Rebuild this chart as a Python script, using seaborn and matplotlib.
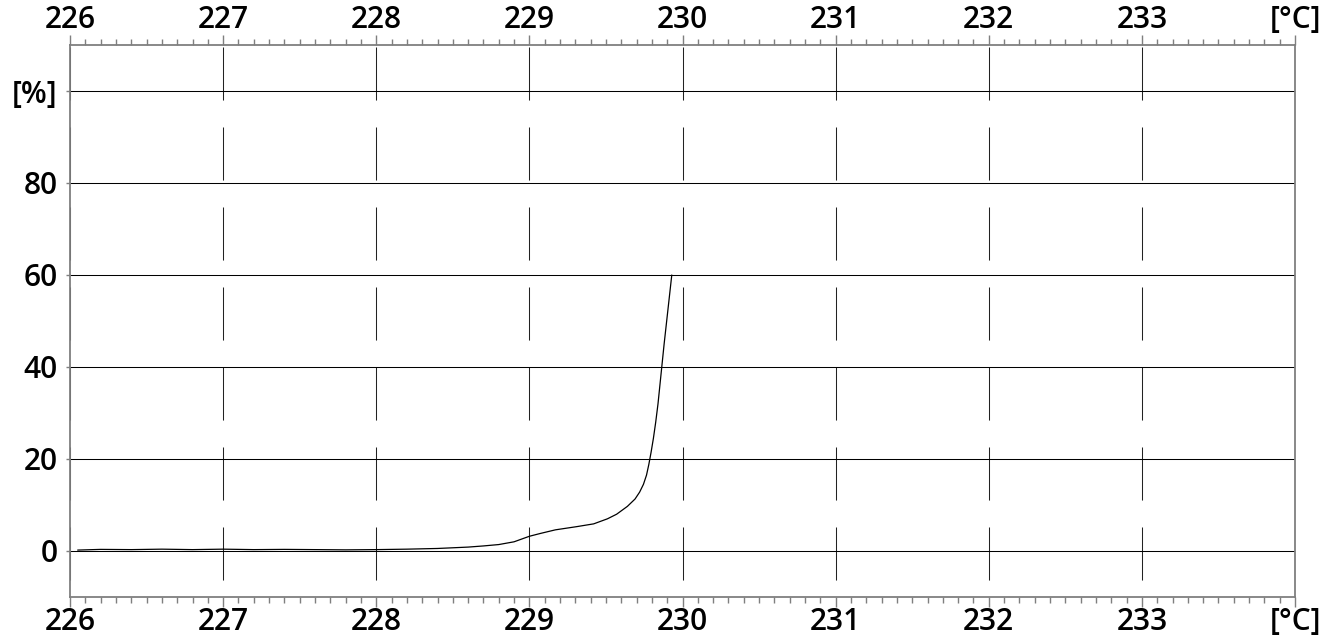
import numpy as np
import pandas as pd
import seaborn as sns
import matplotlib
matplotlib.use("Agg")
import matplotlib.pyplot as plt
import matplotlib.ticker as mtick

# curve (temperature [°C] vs. percent)
temp = [226.05, 226.2, 226.4, 226.6, 226.8, 227.0, 227.2, 227.4, 227.6, 227.8,
        228.0, 228.2, 228.4, 228.5, 228.6, 228.7, 228.8, 228.9, 229.0, 229.07,
        229.17, 229.31, 229.42, 229.51, 229.57, 229.64, 229.69, 229.72, 229.745,
        229.765, 229.78, 229.795, 229.81, 229.825, 229.84, 229.86, 229.88,
        229.90, 229.93]
pct = [0.2, 0.35, 0.3, 0.4, 0.3, 0.4, 0.3, 0.35, 0.3, 0.25,
       0.3, 0.4, 0.55, 0.7, 0.85, 1.1, 1.4, 2.0, 3.2, 3.8,
       4.6, 5.3, 5.9, 7.0, 8.0, 9.7, 11.3, 12.8, 14.5,
       16.5, 18.8, 21.5, 24.5, 28.0, 32.0, 38.5, 45.0,
       51.0, 60.0]

x_ticks = [226, 227, 228, 229, 230, 231, 232, 233, 234]
x_labels = ["226", "227", "228", "229", "230", "231", "232", "233", "[°C]"]
y_ticks = [0, 20, 40, 60, 80, 100]
y_labels = ["0", "20", "40", "60", "80", "[%]"]

sns.set_style("white")
plt.rcParams["font.family"] = ["Open Sans", "DejaVu Sans"]
plt.rcParams["font.weight"] = "semibold"
plt.rcParams["lines.scale_dashes"] = False

df = pd.DataFrame({"temp": temp, "pct": pct})

fig = plt.figure(figsize=(13.33, 6.37), dpi=100)
ax = fig.add_axes([70 / 1333, 1 - 597 / 637, 1225 / 1333, 552 / 637])

sns.lineplot(data=df, x="temp", y="pct", color="black", lw=0.9,
             estimator=None, sort=False, ax=ax, zorder=5)

ax.set_xlim(226, 234)
ax.set_ylim(-10, 110)
ax.set_xlabel("")
ax.set_ylabel("")

ax.set_xticks(x_ticks)
ax.set_xticklabels(x_labels)
ax.xaxis.set_minor_locator(mtick.MultipleLocator(0.1))
ax.set_yticks(y_ticks)
ax.set_yticklabels(y_labels)

grey = "#7f7f7f"
for s in ax.spines.values():
    s.set_color(grey)
    s.set_linewidth(1.3)

ax.tick_params(axis="x", which="both", top=True, bottom=True,
               labeltop=True, labelbottom=True, colors=grey,
               labelcolor="black", labelsize=21.5, pad=0)
ax.tick_params(axis="x", which="major", length=7, width=1)
ax.tick_params(axis="x", which="minor", length=4.5, width=1)
ax.tick_params(axis="y", which="major", left=True, length=3, width=1,
               colors=grey, labelcolor="black", labelsize=21.5, pad=6)

# dashed vertical grid, solid horizontal grid
ax.grid(axis="x", color="#222222", lw=0.75,
        linestyle=(45.4, (38.2, 19.4)))
ax.grid(axis="y", color="black", lw=0.75, linestyle="-")
ax.set_axisbelow(True)

fig.savefig("out.png", dpi=100)
